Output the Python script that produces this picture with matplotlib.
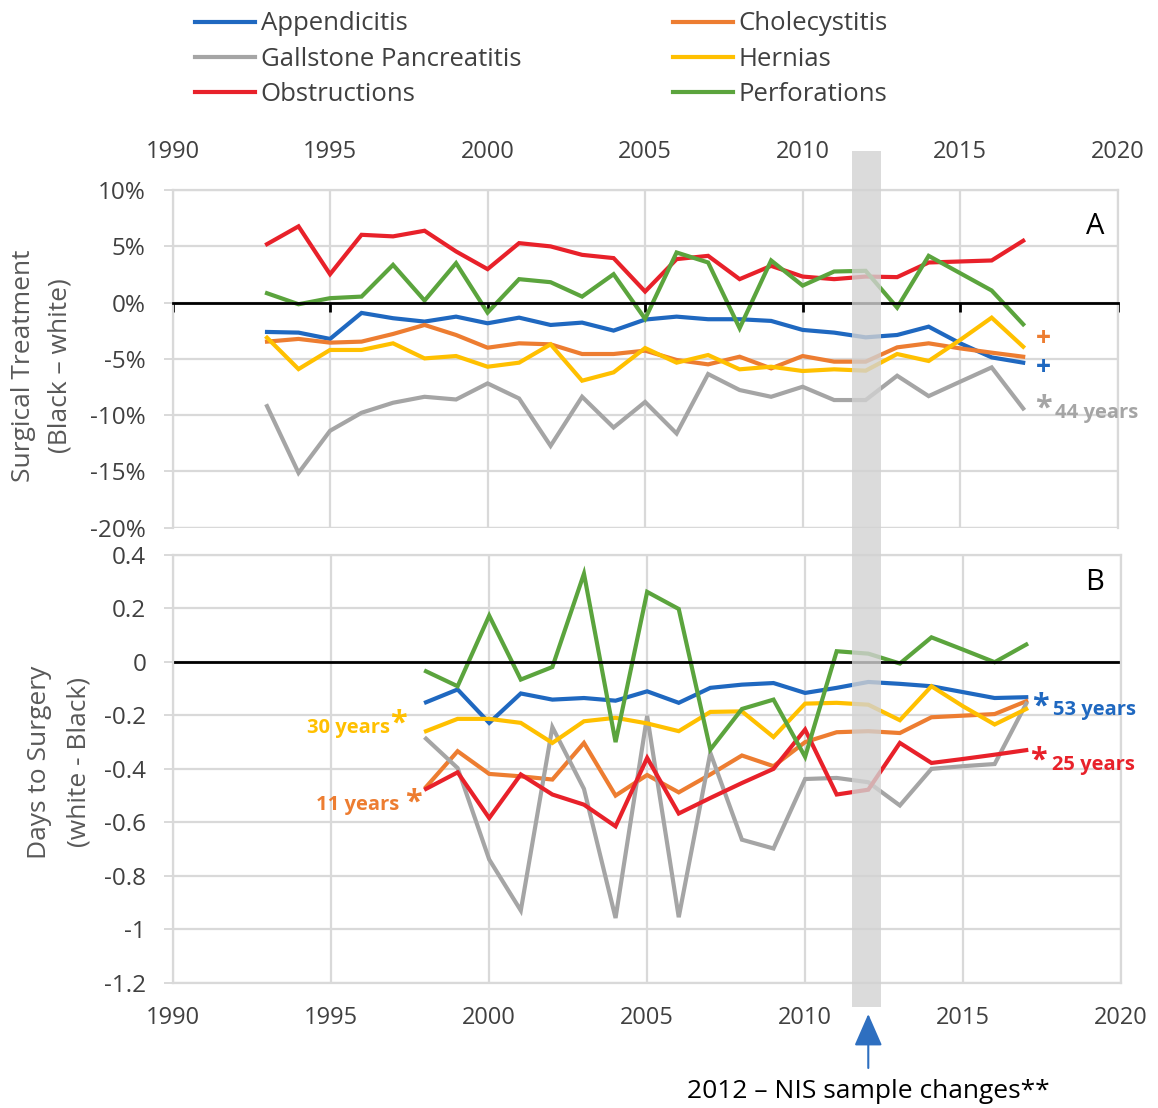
import numpy as np
import matplotlib
matplotlib.use('Agg')
import matplotlib.pyplot as plt
from matplotlib.patches import Rectangle
from matplotlib.transforms import blended_transform_factory
from matplotlib.ticker import FuncFormatter

plt.rcParams['font.family'] = ['Open Sans', 'DejaVu Sans']

## ---------------------- DATA ----------------------------------------
names = ['Appendicitis', 'Cholecystitis', 'Gallstone Pancreatitis', 'Hernias', 'Obstructions', 'Perforations']
colors = ['#1f68c0', '#ed7d31', '#a5a5a5', '#ffc000', '#e8212a', '#5ba43d']

years_a = list(range(1993, 2018))
years_b = list(range(1998, 2018))

# panel A: surgical treatment (Black - white), percent
appendicitis_a = [-2.61, -2.67, -3.23, -0.92, -1.39, -1.69, -1.25, -1.84, -1.34, -1.99, -1.78, -2.49, -1.51,
                  -1.25, -1.48, -1.48, -1.63, -2.43, -2.67, -3.09, -2.88, -2.14, -3.62, -4.87, -5.34]
cholecystitis_a = [-3.47, -3.23, -3.56, -3.47, -2.79, -1.99, -2.88, -4.01, -3.62, -3.71, -4.57, -4.57, -4.27,
                   -5.10, -5.49, -4.81, -5.85, -4.75, -5.25, -5.25, -3.98, -3.62, -4.07, -4.45, -4.81]
gallstone_a = [-9.20, -15.13, -11.39, -9.79, -8.90, -8.37, -8.61, -7.18, -8.52, -12.73, -8.37, -11.10, -8.83,
               -11.63, -6.35, -7.77, -8.37, -7.48, -8.66, -8.66, -6.50, -8.31, -7.03, -5.76, -9.41]
hernias_a = [-3.12, -5.91, -4.21, -4.21, -3.62, -4.96, -4.75, -5.70, -5.34, -3.71, -6.94, -6.20, -4.04,
             -5.34, -4.66, -5.93, -5.70, -6.08, -5.93, -6.05, -4.57, -5.19, -3.32, -1.34, -3.92]
obstructions_a = [5.19, 6.77, 2.52, 6.02, 5.88, 6.38, 4.54, 2.97, 5.28, 4.99, 4.24, 3.95, 0.98,
                  3.86, 4.15, 2.08, 3.26, 2.31, 2.08, 2.31, 2.26, 3.56, 3.65, 3.74, 5.49]
perforations_a = [0.83, -0.15, 0.39, 0.53, 3.35, 0.18, 3.50, -0.89, 2.08, 1.81, 0.53, 2.52, -1.45,
                  4.45, 3.56, -2.28, 3.74, 1.51, 2.76, 2.82, -0.45, 4.15, 2.61, 1.07, -1.93]

# panel B: days to surgery (white - Black)
appendicitis_b = [-0.151, -0.103, -0.228, -0.118, -0.141, -0.135, -0.145, -0.110, -0.153, -0.097,
                  -0.085, -0.079, -0.116, -0.097, -0.075, -0.082, -0.091, -0.113, -0.135, -0.132]
cholecystitis_b = [-0.468, -0.334, -0.419, -0.428, -0.440, -0.303, -0.500, -0.423, -0.488, -0.421,
                   -0.350, -0.390, -0.300, -0.263, -0.259, -0.266, -0.207, -0.201, -0.195, -0.147]
gallstone_b = [-0.287, -0.397, -0.739, -0.930, -0.244, -0.475, -0.958, -0.202, -0.955, -0.340,
               -0.665, -0.698, -0.438, -0.434, -0.450, -0.537, -0.400, -0.390, -0.382, -0.156]
hernias_b = [-0.259, -0.213, -0.213, -0.228, -0.303, -0.222, -0.209, -0.230, -0.259, -0.187,
             -0.185, -0.281, -0.156, -0.153, -0.160, -0.218, -0.091, -0.166, -0.234, -0.176]
obstructions_b = [-0.475, -0.413, -0.584, -0.421, -0.496, -0.534, -0.615, -0.359, -0.567, -0.509,
                  -0.453, -0.400, -0.253, -0.496, -0.478, -0.303, -0.378, -0.363, -0.347, -0.330]
perforations_b = [-0.035, -0.091, 0.173, -0.066, -0.019, 0.330, -0.300, 0.262, 0.198, -0.328,
                  -0.176, -0.141, -0.355, 0.040, 0.031, -0.006, 0.092, 0.046, -0.001, 0.065]

series_a = [appendicitis_a, cholecystitis_a, gallstone_a, hernias_a, obstructions_a, perforations_a]
series_b = [appendicitis_b, cholecystitis_b, gallstone_b, hernias_b, obstructions_b, perforations_b]

x_ticks = [1990, 1995, 2000, 2005, 2010, 2015, 2020]
ya_ticks = [-20, -15, -10, -5, 0, 5, 10]
yb_ticks = [-1.2, -1.0, -0.8, -0.6, -0.4, -0.2, 0, 0.2, 0.4]

## ---------------------- FIGURE ----------------------------------------
W, H = 1158, 1108
fig = plt.figure(figsize=(W / 100, H / 100), dpi=100)
ax1 = fig.add_axes([172.5 / W, (H - 527.7) / H, 945.2 / W, 337.7 / H])
ax2 = fig.add_axes([173.3 / W, (H - 982.7) / H, 947.7 / W, 427.7 / H])

grid_c = '#d9d9d9'
txt_c = '#404040'
lw = 3.0
ann_fs = 14.5
star_fs = 22
plus_fs = 19

for ax in (ax1, ax2):
    ax.set_xlim(1990, 2020)
    ax.set_xticks(x_ticks)
    ax.grid(True, color=grid_c, lw=1.6)
    ax.set_axisbelow(True)
    for s in ('left', 'right', 'top', 'bottom'):
        ax.spines[s].set_color(grid_c)
        ax.spines[s].set_linewidth(1.6)
    ax.tick_params(axis='y', colors=grid_c, labelcolor=txt_c, labelsize=17.5, length=6.5, width=1.4, pad=13)

## ---------------------- PANEL A ----------------------------------------
lines = []
for vals, c, n in zip(series_a, colors, names):
    ln, = ax1.plot(years_a, vals, color=c, lw=lw, label=n, solid_joinstyle='miter')
    lines.append(ln)
ax1.set_ylim(-20, 10)
ax1.set_yticks(ya_ticks)
ax1.yaxis.set_major_formatter(FuncFormatter(lambda v, p: '%d%%' % v))
ax1.spines['bottom'].set_position(('data', 0))
ax1.spines['bottom'].set_color('black')
ax1.spines['bottom'].set_linewidth(2)
ax1.axhline(-20, color=grid_c, lw=1.6, zorder=0)
ax1.tick_params(axis='x', bottom=True, top=False, labelbottom=False, labeltop=True, direction='out',
                length=6.5, width=2, color='black', labelcolor=txt_c, labelsize=17, pad=12)
ax1.set_ylabel('Surgical Treatment\n(Black \u2013 white)', fontsize=19, color='#595959', linespacing=1.6)
ax1.yaxis.set_label_coords(-0.106, 0.479)
ax1.text(0.976, 0.893, 'A', transform=ax1.transAxes, fontsize=21, ha='center', va='center')

# significance marks
ax1.text(2017.63, -3.2, '+', color=colors[1], fontsize=plus_fs, fontweight='bold', ha='center', va='center')
ax1.text(2017.63, -5.75, '+', color=colors[0], fontsize=plus_fs, fontweight='bold', ha='center', va='center')
ax1.text(2017.63, -9.4, '*', color=colors[2], fontsize=star_fs, fontweight='bold', ha='center', va='center')
ax1.text(2018.0, -9.81, '44 years', color=colors[2], fontsize=ann_fs, fontweight='bold', ha='left', va='center')

## ---------------------- PANEL B ----------------------------------------
for vals, c in zip(series_b, colors):
    ax2.plot(years_b, vals, color=c, lw=lw, solid_joinstyle='miter')
ax2.set_ylim(-1.2, 0.4)
ax2.set_yticks(yb_ticks)
ax2.yaxis.set_major_formatter(FuncFormatter(lambda v, p: '%g' % round(v, 1)))
ax2.axhline(0, color='black', lw=2)
ax2.tick_params(axis='x', length=0, labelcolor=txt_c, labelsize=17, pad=17)
ax2.set_ylabel('Days to Surgery\n(white - Black)', fontsize=19, color='#595959', linespacing=1.8)
ax2.yaxis.set_label_coords(-0.086, 0.515)
ax2.text(0.9726, 0.9346, 'B', transform=ax2.transAxes, fontsize=21, ha='center', va='center')

ax2.text(2017.46, -0.166, '*', color=colors[0], fontsize=star_fs, fontweight='bold', ha='center', va='center')
ax2.text(2017.85, -0.179, '53 years', color=colors[0], fontsize=ann_fs, fontweight='bold', ha='left', va='center')
ax2.text(2017.40, -0.370, '*', color=colors[4], fontsize=star_fs, fontweight='bold', ha='center', va='center')
ax2.text(2017.80, -0.385, '25 years', color=colors[4], fontsize=ann_fs, fontweight='bold', ha='left', va='center')
ax2.text(1996.86, -0.246, '30 years', color=colors[3], fontsize=ann_fs, fontweight='bold', ha='right', va='center')
ax2.text(1997.11, -0.231, '*', color=colors[3], fontsize=star_fs, fontweight='bold', ha='center', va='center')
ax2.text(1997.14, -0.534, '11 years', color=colors[1], fontsize=ann_fs, fontweight='bold', ha='right', va='center')
ax2.text(1997.59, -0.527, '*', color=colors[1], fontsize=star_fs, fontweight='bold', ha='center', va='center')

## ---------------------- 2012 BAND + ARROW ----------------------------------------
trans = blended_transform_factory(ax1.transData, fig.transFigure)
band = Rectangle((2011.57, (H - 1007) / H), 0.92, (1007 - 151) / H, transform=trans,
                 facecolor='#d2d2d2', edgecolor='none', alpha=0.8, zorder=10)
fig.add_artist(band)

ax2.annotate('', xy=(2012.0, (H - 1014) / H), xycoords=('data', 'figure fraction'),
             xytext=(2012.0, (H - 1068) / H), textcoords=('data', 'figure fraction'),
             arrowprops=dict(arrowstyle='-|>,head_length=0.8,head_width=0.35', color='#2e6fc0',
                             lw=1.5, mutation_scale=25, shrinkA=0, shrinkB=0),
             annotation_clip=False)
ax2.annotate('2012 \u2013 NIS sample changes**', xy=(2012.0, (H - 1092) / H), xycoords=('data', 'figure fraction'),
             ha='center', va='center', fontsize=19, color='black', annotation_clip=False)

## ---------------------- LEGEND (row-wise order) ----------------------------------------
order = [0, 2, 4, 1, 3, 5]
fig.legend([lines[i] for i in order], [names[i] for i in order],
           loc='upper left', bbox_to_anchor=(195 / W, 1 - 11.5 / H), ncol=2, frameon=False,
           fontsize=18.5, handlelength=2.35, handletextpad=0.2, columnspacing=5.9, labelspacing=0.4,
           borderpad=0, borderaxespad=0, labelcolor='#404040')

fig.savefig('out.png', dpi=100)
print('end')
